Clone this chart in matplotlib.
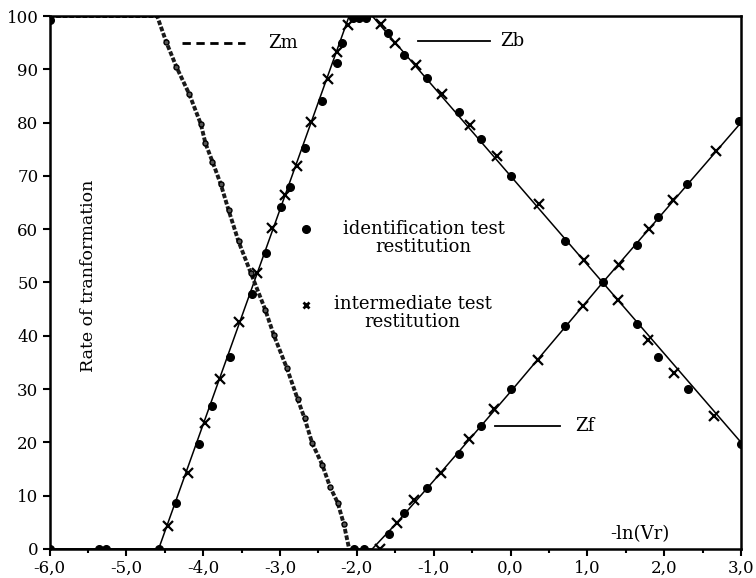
import numpy as np
import matplotlib.pyplot as plt
from matplotlib.ticker import MultipleLocator, FuncFormatter

plt.rcParams['font.family'] = ['DejaVu Serif']

# Zm curve (dashed)
zm_x = [-6.0, -4.60, -4.48, -4.35, -4.18, -4.03, -3.97, -3.88, -3.77, -3.67, -3.54, -3.38,
        -3.19, -3.08, -2.91, -2.77, -2.68, -2.58, -2.45, -2.35, -2.25, -2.17, -2.10]
zm_y = [100, 100, 95.1, 90.5, 85.3, 79.7, 76.1, 72.7, 68.4, 63.6, 57.7, 51.8,
        44.8, 40.1, 33.9, 28.1, 24.5, 19.8, 15.8, 11.7, 8.7, 4.7, 0]
# Zb curve (solid)
zb_x = [-6.0, -4.58, -2.10, -1.80, 3.0]
zb_y = [0, 0, 100, 100, 20]
# Zf curve (solid)
zf_x = [-6.0, -1.80, -1.50, -1.00, 0.0, 1.20, 3.0]
zf_y = [0, 0, 4.6, 12.8, 29.5, 50, 80]

# identification test restitution (dots)
id_x = [-6.0, -5.35, -5.27, -4.58, -4.35, -4.05, -3.88, -3.65, -3.37, -3.18, -2.99, -2.87,
        -2.68, -2.45, -2.26, -2.19, -2.05, -1.97, -1.88,
        -1.60, -1.38, -1.09, -0.67, -0.39, 0.0, 0.71, 1.21, 1.64, 1.92, 2.31, 3.0,
        -2.04, -1.91, -1.58, -1.38, -1.09, -0.67, -0.39, 0.01, 0.71, 1.64, 1.92, 2.30, 2.98,
        -6.0]
id_y = [0, 0, 0, 0, 8.7, 19.7, 26.9, 36, 47.9, 55.5, 64.1, 68.0,
        75.2, 84.1, 91.1, 95, 99.6, 99.6, 99.6,
        96.9, 92.7, 88.3, 82, 77, 70, 57.7, 50, 42.3, 36, 30.1, 19.7,
        0, 0, 2.8, 6.7, 11.4, 17.8, 23.1, 30, 41.8, 57, 62.2, 68.4, 80.3,
        99.2]
# intermediate test restitution (crosses)
it_x = [-4.46, -4.20, -3.98, -3.78, -3.53, -3.30, -3.10, -2.93, -2.78, -2.60, -2.38, -2.26, -2.12,
        -1.69, -1.50, -1.23, -0.89, -0.53, -0.18, 0.37, 0.96, 1.40, 1.79, 2.13, 2.65,
        -1.70, -1.48, -1.25, -0.90, -0.54, -0.21, 0.36, 0.94, 1.41, 1.80, 2.12, 2.67]
it_y = [4.3, 14.3, 23.6, 31.8, 42.5, 51.8, 60.2, 66.4, 71.9, 80.2, 88.2, 93.3, 98.3,
        98.5, 95, 90.8, 85.4, 79.6, 73.7, 64.7, 54.2, 46.8, 39.2, 33.1, 25,
        0, 4.8, 9.2, 14.3, 20.6, 26.2, 35.5, 45.6, 53.2, 60, 65.5, 74.7]

fig = plt.figure(figsize=(7.56, 5.78), dpi=100)
ax = fig.add_axes([0.0655, 0.0502, 0.9147, 0.9221])

ax.plot(zb_x, zb_y, color='black', lw=1.1)
ax.plot(zf_x, zf_y, color='black', lw=1.1)
ax.plot(zm_x, zm_y, color='#1a1a1a', lw=2.8, dashes=(1.2, 0.5))
ax.plot(zm_x[2:-1], zm_y[2:-1], ls='none', marker='o', ms=3.6, mfc='#555555', mec='black', mew=1)
ax.plot(id_x, id_y, ls='none', marker='o', ms=5.5, color='black')
ax.plot(it_x, it_y, ls='none', marker='x', ms=6.5, mew=1.6, color='black')

ax.set_xlim(-6, 3)
ax.set_ylim(0, 100)
ax.xaxis.set_major_locator(MultipleLocator(1))
ax.xaxis.set_minor_locator(MultipleLocator(0.5))
ax.yaxis.set_major_locator(MultipleLocator(10))
ax.xaxis.set_major_formatter(FuncFormatter(lambda v, p: ('%.1f' % v).replace('.', ',')))
ax.yaxis.set_major_formatter(FuncFormatter(lambda v, p: '%d' % v))
ax.tick_params(axis='both', which='major', direction='out', length=5, width=1.5, labelsize=12, pad=3)
ax.tick_params(axis='x', which='minor', direction='out', length=3, width=1.5)
for s in ax.spines.values():
    s.set_linewidth(1.8)

# curve labels
ax.plot([0.192, 0.283], [0.949, 0.949], transform=ax.transAxes, color='black', lw=2, dashes=(3, 2))
ax.text(0.316, 0.949, 'Zm', transform=ax.transAxes, fontsize=13, va='center')
ax.plot([0.533, 0.637], [0.953, 0.953], transform=ax.transAxes, color='black', lw=1.3)
ax.text(0.651, 0.953, 'Zb', transform=ax.transAxes, fontsize=13, va='center')
ax.plot([0.644, 0.738], [0.231, 0.231], transform=ax.transAxes, color='black', lw=1.3)
ax.text(0.760, 0.231, 'Zf', transform=ax.transAxes, fontsize=13, va='center')

# marker legend
ax.plot([0.371], [0.600], transform=ax.transAxes, marker='o', ms=5.5, color='black')
ax.text(0.541, 0.583, 'identification test\nrestitution', transform=ax.transAxes,
        fontsize=13, ha='center', va='center', linespacing=1.0)
ax.plot([0.371], [0.458], transform=ax.transAxes, marker='x', ms=5, mew=2, color='black')
ax.text(0.525, 0.443, 'intermediate test\nrestitution', transform=ax.transAxes,
        fontsize=13, ha='center', va='center', linespacing=1.0)

ax.text(0.0557, 0.512, 'Rate of tranformation', transform=ax.transAxes, rotation=90,
        fontsize=12.5, ha='center', va='center')
ax.text(0.854, 0.028, '-ln(Vr)', transform=ax.transAxes, fontsize=13, ha='center', va='center')

fig.savefig('out.png', dpi=100)
